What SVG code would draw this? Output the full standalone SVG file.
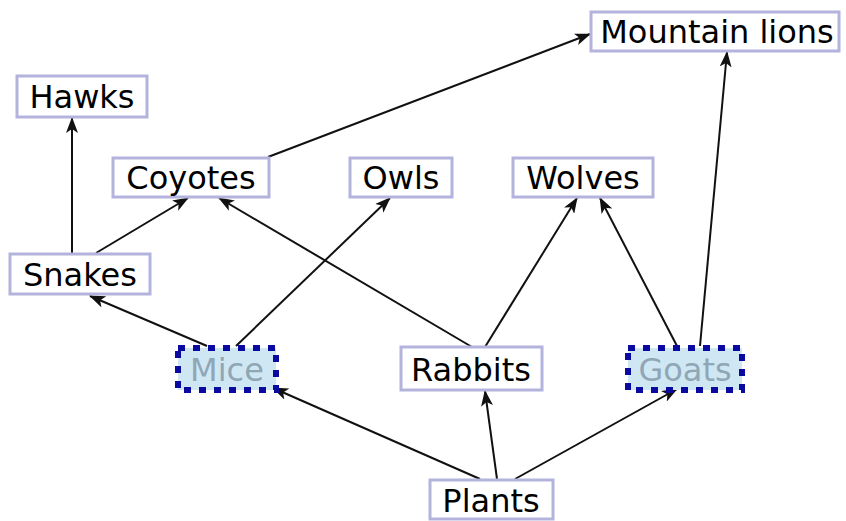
<svg xmlns="http://www.w3.org/2000/svg" width="846" height="521" viewBox="0 0 846 521">
<style>
.box{fill:#ffffff;stroke:#b3b3de;stroke-width:3}
.hl{fill:#cfe7f2;stroke:#0a0aa0;stroke-width:6;stroke-dasharray:7 8}
.t{font-family:"DejaVu Sans",Verdana,sans-serif;font-size:32px;fill:#000000;text-anchor:middle}
.th{fill:#8fa6b6}
.e{stroke:#111111;stroke-width:2;fill:none;marker-end:url(#ah)}
</style>
<defs>
<marker id="ah" viewBox="0 0 16 12" refX="15" refY="6" markerWidth="16" markerHeight="12" markerUnits="userSpaceOnUse" orient="auto">
<path d="M0,0 L16,6 L0,12 L4,6 z" fill="#111111"/>
</marker>
</defs>
<rect width="846" height="521" fill="#ffffff"/>
<g id="connectors">
<line class="e" x1="72" y1="254" x2="72" y2="118"/>
<line class="e" x1="96" y1="253" x2="188" y2="198"/>
<line class="e" x1="207" y1="346" x2="90" y2="296"/>
<line class="e" x1="236" y1="346" x2="390" y2="198"/>
<line class="e" x1="268" y1="157" x2="590" y2="34"/>
<line class="e" x1="472" y1="347" x2="219" y2="198"/>
<line class="e" x1="485" y1="347" x2="577" y2="198"/>
<line class="e" x1="677" y1="346" x2="600" y2="198"/>
<line class="e" x1="700" y1="346" x2="727" y2="52"/>
<line class="e" x1="480" y1="479" x2="273" y2="388"/>
<line class="e" x1="497" y1="479" x2="485" y2="391"/>
<line class="e" x1="515" y1="479" x2="677" y2="389"/>
</g>
<g id="mountain-lions"><rect class="box" x="591" y="12" width="248" height="39"/><text class="t" x="717" y="43">Mountain lions</text></g>
<g id="hawks"><rect class="box" x="17" y="76" width="130" height="41"/><text class="t" x="82" y="108">Hawks</text></g>
<g id="coyotes"><rect class="box" x="113" y="158" width="156" height="39"/><text class="t" x="191" y="189">Coyotes</text></g>
<g id="owls"><rect class="box" x="350" y="158" width="102" height="39"/><text class="t" x="401" y="189">Owls</text></g>
<g id="wolves"><rect class="box" x="513" y="158" width="140" height="39"/><text class="t" x="583" y="189">Wolves</text></g>
<g id="snakes"><rect class="box" x="10" y="254" width="140" height="40"/><text class="t" x="80" y="286">Snakes</text></g>
<g id="mice"><rect class="hl" x="178" y="348" width="98" height="42"/><text class="t th" x="227" y="381">Mice</text></g>
<g id="rabbits"><rect class="box" x="401" y="347" width="141" height="43"/><text class="t" x="471" y="381">Rabbits</text></g>
<g id="goats"><rect class="hl" x="628" y="348" width="114" height="42"/><text class="t th" x="685" y="381">Goats</text></g>
<g id="plants"><rect class="box" x="430" y="480" width="123" height="39"/><text class="t" x="491" y="512">Plants</text></g>
</svg>
